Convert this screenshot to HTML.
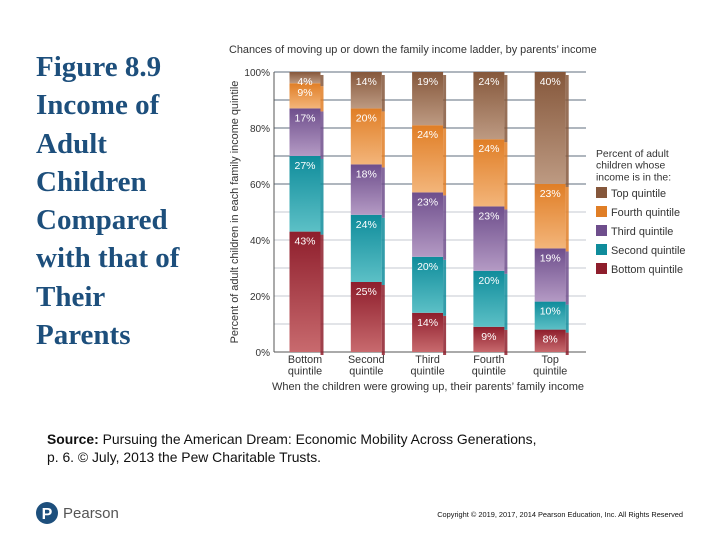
<!DOCTYPE html>
<html><head><meta charset="utf-8"><style>
body{margin:0;width:720px;height:540px;background:#fff;position:relative;overflow:hidden;font-family:"Liberation Sans",sans-serif}
#title{position:absolute;left:36px;top:48px;font-family:"Liberation Serif",serif;font-weight:bold;font-size:29px;line-height:38.3px;color:#1d4f7c}
#src{position:absolute;left:47px;top:431px;font-size:13.9px;line-height:17.5px;color:#111}
#copy{position:absolute;right:37px;top:510px;font-size:7.4px;color:#111}
#logo{position:absolute;left:36px;top:502px;display:flex;align-items:center;gap:5px;color:#555;font-size:15px}
</style></head><body>
<div id="title">Figure 8.9<br>Income of<br>Adult<br>Children<br>Compared<br>with that of<br>Their<br>Parents</div>
<svg id="chart" width="720" height="540" style="position:absolute;left:0;top:0">
<defs></defs>
<g id="g"></g>
</svg>
<div id="src"><b>Source:</b> Pursuing the American Dream: Economic Mobility Across Generations,<br>p. 6. © July, 2013 the Pew Charitable Trusts.</div>
<div id="logo"><svg width="22" height="22"><circle cx="11" cy="11" r="11" fill="#1d4f7c"/><text x="11" y="17" text-anchor="middle" fill="#fff" font-size="16" font-weight="bold" font-family="Liberation Sans">P</text></svg><span>Pearson</span></div>
<div id="copy">Copyright © 2019, 2017, 2014 Pearson Education, Inc. All Rights Reserved</div>
<script>
const categories=["Bottom quintile","Second quintile","Third quintile","Fourth quintile","Top quintile"];
const seriesNames=["Bottom quintile","Second quintile","Third quintile","Fourth quintile","Top quintile"];
const bottomQ=[43,25,14,9,8];
const secondQ=[27,24,20,20,10];
const thirdQ=[17,18,23,23,19];
const fourthQ=[9,20,24,24,23];
const topQ=[4,14,19,24,40];
const yTicks=[0,20,40,60,80,100];
const series=[bottomQ,secondQ,thirdQ,fourthQ,topQ];
const colors=[["#c86a6e","#8e1e2c"],["#5cc0c6","#0f8c9b"],["#b49ac4","#6e4e8c"],["#f3b57a","#e07e26"],["#bd9a82","#85573b"]];
const ns="http://www.w3.org/2000/svg";
const svg=document.getElementById('chart'),g=document.getElementById('g'),defs=svg.querySelector('defs');
const X0=274,X1=586,Y0=352,Y1=72,bw=31;
const y=v=>Y0-(Y0-Y1)*v/100;
const xc=i=>305+i*61.3;
function el(t,a,p){const e=document.createElementNS(ns,t);for(const k in a)e.setAttribute(k,a[k]);(p||g).appendChild(e);return e;}
colors.forEach((c,i)=>{const lg=el('linearGradient',{id:'gr'+i,x1:0,y1:0,x2:0,y2:1},defs);el('stop',{offset:0,'stop-color':c[1]},lg);el('stop',{offset:1,'stop-color':c[0]},lg);});
for(let v=10;v<=100;v+=10){const l=el('line',{x1:X0,x2:X1,y1:y(v),y2:y(v),stroke:v>=60?'#7f8a96':'#c4cad0','stroke-width':v>=60?1.2:1});

}
const ax=el('line',{x1:X0,x2:X0,y1:Y1,y2:Y0,stroke:'#555'});


const bx=el('line',{x1:X0,x2:X1,y1:Y0,y2:Y0,stroke:'#555'});


yTicks.forEach(t=>{const tx=el('text',{x:X0-4,y:y(t)+4,'text-anchor':'end','font-size':10,fill:'#333'});tx.textContent=t+'%';

});
categories.forEach((c,i)=>{let cum=0;const x=xc(i)-bw/2;
series.forEach((s,k)=>{const v=s[i];const a=cum,b=Math.min(100,cum+v);cum+=v;if(b<=a)return;
const r=el('rect',{x:x,y:y(b),width:bw,height:y(a)-y(b),fill:'url(#gr'+k+')'});


const sd=el('rect',{x:x+bw,y:y(b)+3,width:3,height:y(a)-y(b),fill:colors[k][1],opacity:0.85});


const t=el('text',{x:xc(i),y:y(b)+13,'text-anchor':'middle','font-size':10.5,fill:'#fff'});t.textContent=v+'%';

});
const w=c.split(' ');w.forEach((wd,j)=>{const t=el('text',{x:xc(i),y:363+j*11.5,'text-anchor':'middle','font-size':10.8,fill:'#333'});t.textContent=wd.charAt(0).toUpperCase()+wd.slice(1);if(j==1)t.textContent=wd;

});});
const ct=el('text',{x:229,y:53,'font-size':10.9,fill:'#333'});ct.textContent="Chances of moving up or down the family income ladder, by parents\u2019 income";


const xt=el('text',{x:428,y:390,'text-anchor':'middle','font-size':11,fill:'#333'});xt.textContent="When the children were growing up, their parents\u2019 family income";


const yt=el('text',{transform:'translate(238,212) rotate(-90)','text-anchor':'middle','font-size':10.9,fill:'#333'});yt.textContent="Percent of adult children in each family income quintile";


["Percent of adult","children whose","income is in the:"].forEach((s,j)=>{const t=el('text',{x:596,y:157+j*11.7,'font-size':10.4,fill:'#333'});t.textContent=s;

});
for(let k=4;k>=0;k--){const yy=193+(4-k)*19;
const r=el('rect',{x:596,y:yy-6,width:11,height:11,fill:colors[k][1]});


const t=el('text',{x:611,y:yy+4,'font-size':10.9,fill:'#333'});t.textContent=seriesNames[k];

}
</script>
</body></html>
